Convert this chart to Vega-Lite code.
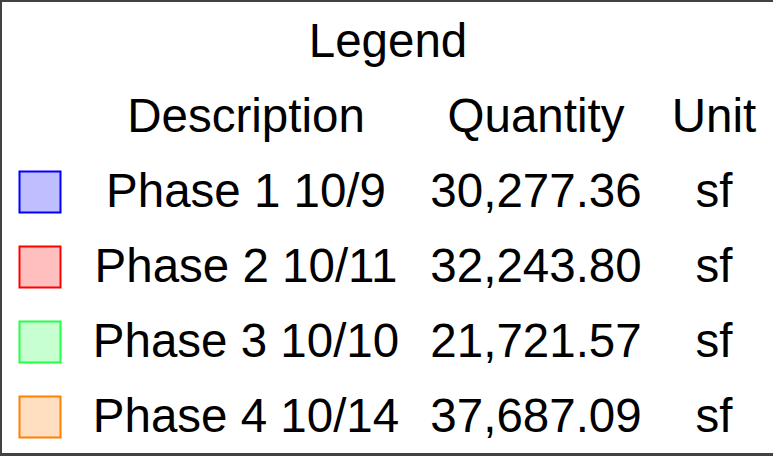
{
  "$schema": "https://vega.github.io/schema/vega-lite/v6.json",
  "width": 773,
  "height": 456,
  "autosize": {"type": "fit", "contains": "padding"},
  "padding": {"left": 2, "top": 2, "right": 0, "bottom": 3},
  "background": "#3f4440",
  "config": {"view": {"stroke": null, "fill": "white"}},
  "datasets": {
    "headers": [
      {"label": "Legend", "x": 386, "row": 0},
      {"label": "Description", "x": 244, "row": 1},
      {"label": "Quantity", "x": 534, "row": 1},
      {"label": "Unit", "x": 712, "row": 1}
    ],
    "phases": [
      {"phase": "Phase 1", "description": "Phase 1 10/9", "quantity": 30277.36, "unit": "sf", "row": 2},
      {"phase": "Phase 2", "description": "Phase 2 10/11", "quantity": 32243.80, "unit": "sf", "row": 3},
      {"phase": "Phase 3", "description": "Phase 3 10/10", "quantity": 21721.57, "unit": "sf", "row": 4},
      {"phase": "Phase 4", "description": "Phase 4 10/14", "quantity": 37687.09, "unit": "sf", "row": 5}
    ]
  },
  "encoding": {
    "y": {"field": "row", "type": "quantitative", "scale": {"domain": [-0.5333, 5.48], "reverse": true, "nice": false, "zero": false}, "axis": null}
  },
  "layer": [
    {
      "data": {"name": "headers"},
      "mark": {"type": "text", "font": "Liberation Sans", "fontSize": 47.5, "baseline": "middle", "align": "center", "color": "black", "dy": 1.5},
      "encoding": {
        "x": {"field": "x", "type": "quantitative", "scale": {"domain": [0, 771], "nice": false, "zero": false}, "axis": null},
        "text": {"field": "label"}
      }
    },
    {
      "data": {"name": "phases"},
      "mark": {"type": "square", "size": 1681, "strokeWidth": 2, "fillOpacity": 0.25, "opacity": 1},
      "encoding": {
        "x": {"datum": 38, "type": "quantitative"},
        "fill": {"field": "phase", "type": "nominal", "scale": {"domain": ["Phase 1", "Phase 2", "Phase 3", "Phase 4"], "range": ["#0000ff", "#ff0000", "#22ff44", "#ff8000"]}, "legend": null},
        "stroke": {"field": "phase", "type": "nominal", "scale": {"domain": ["Phase 1", "Phase 2", "Phase 3", "Phase 4"], "range": ["#0000ff", "#ff0000", "#22ff44", "#ff8000"]}, "legend": null}
      }
    },
    {
      "data": {"name": "phases"},
      "mark": {"type": "text", "font": "Liberation Sans", "fontSize": 47.5, "baseline": "middle", "align": "center", "color": "black", "dy": 1.5},
      "encoding": {
        "x": {"datum": 244, "type": "quantitative"},
        "text": {"field": "description"}
      }
    },
    {
      "data": {"name": "phases"},
      "mark": {"type": "text", "font": "Liberation Sans", "fontSize": 47.5, "baseline": "middle", "align": "center", "color": "black", "dy": 1.5},
      "encoding": {
        "x": {"datum": 534, "type": "quantitative"},
        "text": {"field": "quantity", "type": "quantitative", "format": ",.2f"}
      }
    },
    {
      "data": {"name": "phases"},
      "mark": {"type": "text", "font": "Liberation Sans", "fontSize": 47.5, "baseline": "middle", "align": "center", "color": "black", "dy": 1.5},
      "encoding": {
        "x": {"datum": 712, "type": "quantitative"},
        "text": {"field": "unit"}
      }
    }
  ]
}
